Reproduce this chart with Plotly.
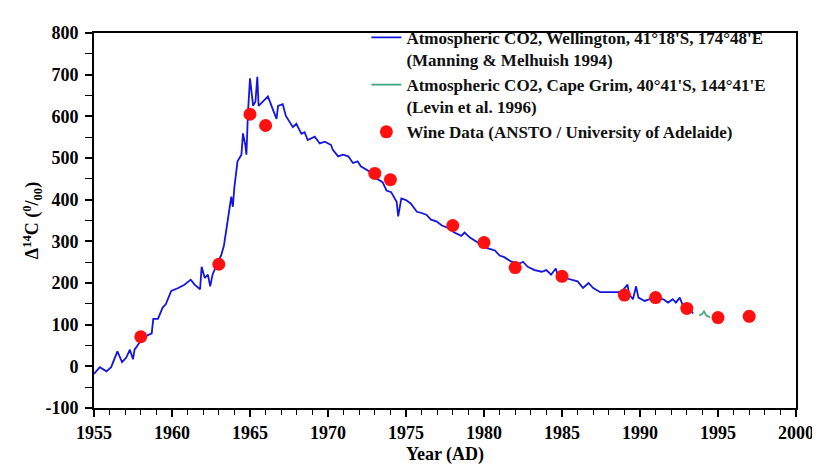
import plotly.graph_objects as go

# Wellington atmospheric CO2 record
wel_year = [1955.0, 1955.37, 1955.8, 1956.1, 1956.5, 1956.8, 1957.07, 1957.3, 1957.5, 1957.6,
            1957.9, 1958.25, 1958.7, 1958.8, 1959.1, 1959.4, 1959.6, 1959.95, 1960.4, 1960.8,
            1961.2, 1961.45, 1961.8, 1961.9, 1962.1, 1962.3, 1962.45, 1962.6, 1962.85, 1963.15,
            1963.33, 1963.5, 1963.7, 1963.8, 1963.9, 1964.0, 1964.2, 1964.45, 1964.55, 1964.7,
            1964.77, 1964.87, 1965.0, 1965.2, 1965.35, 1965.47, 1965.55, 1965.85, 1966.15, 1966.5,
            1966.7, 1966.8, 1967.1, 1967.3, 1967.5, 1967.75, 1967.97, 1968.3, 1968.5, 1968.7,
            1969.15, 1969.47, 1969.8, 1970.2, 1970.3, 1970.65, 1970.96, 1971.3, 1971.6, 1971.9,
            1972.1, 1972.6, 1973.0, 1973.5, 1973.75, 1974.05, 1974.4, 1974.5, 1974.7, 1975.0,
            1975.3, 1975.7, 1976.0, 1976.3, 1976.6, 1976.95, 1977.3, 1977.7, 1978.1, 1978.55,
            1978.75, 1979.1, 1979.6, 1979.95, 1980.36, 1980.7, 1981.0, 1981.3, 1981.75, 1982.3,
            1982.5, 1982.8, 1983.25, 1983.7, 1984.0, 1984.3, 1984.6, 1984.75, 1985.2, 1985.6,
            1986.0, 1986.35, 1986.7, 1987.0, 1987.45, 1988.8, 1989.2, 1989.3, 1989.55, 1989.75,
            1989.9, 1990.3, 1990.9, 1991.5, 1991.8, 1992.1, 1992.3, 1992.55, 1992.75, 1993.1,
            1993.4]
wel_d14c = [-18, -2, -12, -2, 36, 10, 21, 40, 17, 40,
            56, 71, 79, 114, 114, 141, 149, 181, 188, 196,
            208, 196, 185, 239, 212, 220, 192, 220, 243, 266,
            290, 329, 383, 407, 383, 430, 492, 508, 559, 531,
            508, 609, 691, 625, 636, 695, 625, 636, 648, 613,
            594, 625, 629, 601, 590, 574, 582, 558, 562, 543,
            551, 535, 539, 531, 520, 504, 508, 504, 488, 492,
            480, 469, 453, 442, 422, 418, 395, 360, 403, 399,
            391, 371, 368, 364, 352, 348, 338, 332, 321, 313,
            321, 309, 297, 286, 282, 278, 266, 262, 251, 247,
            251, 239, 231, 227, 231, 220, 235, 216, 212, 208,
            204, 188, 200, 188, 178, 178, 196, 173, 161, 192,
            165, 157, 165, 161, 153, 161, 153, 165, 146, 142,
            127]

# Cape Grim atmospheric CO2
cg_year = [1993.8, 1994.0, 1994.1, 1994.25, 1994.5]
cg_d14c = [122, 126, 132, 122, 118]

# wine samples
wine_year = [1958, 1963, 1965, 1966, 1973, 1974, 1978, 1980, 1982, 1985, 1989, 1991, 1993, 1995, 1997]
wine_d14c = [71, 245, 605, 578, 463, 448, 338, 297, 237, 216, 171, 165, 139, 117, 120]

x_ticks = [1955, 1960, 1965, 1970, 1975, 1980, 1985, 1990, 1995, 2000]
y_ticks = [-100, 0, 100, 200, 300, 400, 500, 600, 700, 800]

serif = "Liberation Serif"

fig = go.Figure()
fig.add_trace(go.Scatter(
    x=wel_year, y=wel_d14c, mode="lines",
    line=dict(color="#1515e0", width=1.8),
    name="Atmospheric CO2, Wellington, 41°18'S, 174°48'E<br>(Manning & Melhuish 1994)"))
fig.add_trace(go.Scatter(
    x=cg_year, y=cg_d14c, mode="lines",
    line=dict(color="#3aa57a", width=1.6),
    name="Atmospheric CO2, Cape Grim, 40°41'S, 144°41'E<br>(Levin et al. 1996)"))
fig.add_trace(go.Scatter(
    x=wine_year, y=wine_d14c, mode="markers",
    marker=dict(color="#ff1010", size=13),
    name="Wine Data (ANSTO / University of Adelaide)"))

fig.update_layout(
    width=820, height=465,
    margin=dict(l=86, r=32, t=15, b=65),
    paper_bgcolor="white", plot_bgcolor="white",
    font=dict(family=serif, size=18, color="black", weight="bold"),
    legend=dict(x=0.388, y=1.035, xanchor="left", yanchor="top", valign="top",
                font=dict(family=serif, size=17, color="#111", weight="bold"),
                bgcolor="rgba(0,0,0,0)", tracegroupgap=0),
)
fig.update_xaxes(
    range=[1955, 2000], tickvals=x_ticks,
    showgrid=False, zeroline=False,
    showline=True, linecolor="black", linewidth=2, mirror=True,
    ticks="outside", ticklen=7, tickwidth=1.5, tickcolor="black",
    minor=dict(dtick=1, ticks="outside", ticklen=5, tickwidth=1.2, tickcolor="black"),
    tickfont=dict(family=serif, size=18, weight="bold"),
    title=dict(text="Year (AD)", font=dict(family=serif, size=18, weight="bold"), standoff=6))
fig.update_yaxes(
    range=[-100, 800], tickvals=y_ticks, ticktext=[str(v) for v in y_ticks],
    showgrid=False, zeroline=False,
    showline=True, linecolor="black", linewidth=2, mirror=True,
    ticks="outside", ticklen=7, tickwidth=1.5, tickcolor="black",
    minor=dict(dtick=50, ticks="outside", ticklen=7, tickwidth=1.2, tickcolor="black"),
    tickfont=dict(family=serif, size=18, weight="bold"), ticklabelstandoff=3,
    title=dict(text="Δ<sup>14</sup>C (<sup>0</sup>/<sub>00</sub>)",
               font=dict(family=serif, size=18, weight="bold"), standoff=2))

fig.write_html("out.html")
